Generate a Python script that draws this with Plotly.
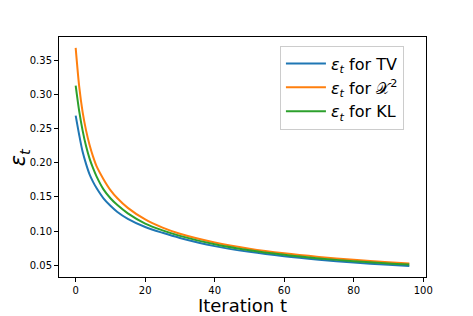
import plotly.graph_objects as go

t_vals = [0, 1, 2, 3, 4, 5, 6, 8, 10, 12, 15, 20, 25, 30, 40, 50, 60, 70, 80, 90, 96]
eps_tv = [0.269, 0.241, 0.216, 0.198, 0.183, 0.172, 0.163, 0.148, 0.137, 0.128, 0.118,
          0.106, 0.0975, 0.0900, 0.0780, 0.0696, 0.0631, 0.0581, 0.0540, 0.0506, 0.0490]
eps_chi2 = [0.368, 0.312, 0.274, 0.247, 0.226, 0.209, 0.195, 0.176, 0.160, 0.148, 0.134,
            0.117, 0.105, 0.0960, 0.0833, 0.0742, 0.0674, 0.0622, 0.0580, 0.0545, 0.0525]
eps_kl = [0.313, 0.276, 0.247, 0.224, 0.206, 0.192, 0.180, 0.161, 0.148, 0.138, 0.126,
          0.111, 0.101, 0.0930, 0.0806, 0.0718, 0.0652, 0.0600, 0.0559, 0.0525, 0.0510]

series_names = ["<i>ε</i><sub><i>t</i></sub> for TV",
                "<i>ε</i><sub><i>t</i></sub> for 𝒳<sup>2</sup>",
                "<i>ε</i><sub><i>t</i></sub> for KL"]
colors = ["#1f77b4", "#ff7f0e", "#2ca02c"]

x_ticks = [0, 20, 40, 60, 80, 100]
y_ticks = [0.05, 0.10, 0.15, 0.20, 0.25, 0.30, 0.35]

fig = go.Figure()
for name, ys, c in zip(series_names, [eps_tv, eps_chi2, eps_kl], colors):
    fig.add_trace(go.Scatter(x=t_vals, y=ys, mode="lines", name=name,
                             line=dict(color=c, width=2, shape="spline", smoothing=0.8)))

axis_common = dict(showline=True, linecolor="black", linewidth=1, mirror=True,
                   ticks="outside", ticklen=4, tickwidth=1, tickcolor="black",
                   showgrid=False, zeroline=False, automargin=False,
                   tickfont=dict(family="DejaVu Sans", size=10, color="black"))

# the page body adds an 8px offset, so the figure is sized to fit the window
fig.update_layout(
    width=465, height=308,
    margin=dict(l=51, r=47, t=29, b=39, autoexpand=False),
    paper_bgcolor="white", plot_bgcolor="white",
    font=dict(family="DejaVu Sans", color="black"),
    xaxis=dict(range=[-4.8, 100.8], tickvals=x_ticks,
               ticktext=[str(v) for v in x_ticks],
               title=dict(text="Iteration t", font=dict(size=18), standoff=2),
               **axis_common),
    yaxis=dict(range=[0.0328, 0.384], tickvals=y_ticks,
               ticktext=[f"{v:.2f}" for v in y_ticks],
               **axis_common),
    legend=dict(x=0.602, y=0.964, xanchor="left", yanchor="top",
                bgcolor="white", bordercolor="#cccccc", borderwidth=1,
                font=dict(size=16, family="DejaVu Sans"),
                itemwidth=40, tracegroupgap=0),
    showlegend=True,
)

fig.add_annotation(text="<i>ε</i><sub><i>t</i></sub>", xref="paper", yref="paper",
                   x=-0.108, y=0.5, xanchor="center", yanchor="middle",
                   textangle=-90, showarrow=False, font=dict(size=21, color="black"))

fig.write_html("out.html")
